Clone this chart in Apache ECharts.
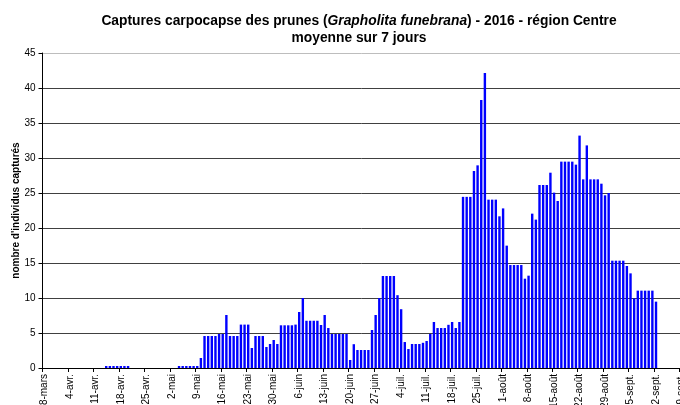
<!DOCTYPE html>
<html>
<head>
<meta charset="utf-8">
<script src="https://cdn.jsdelivr.net/npm/echarts@6/dist/echarts.min.js"></script>
<style>
html,body{margin:0;padding:0;background:#fff;}
#c{width:680px;height:405px;}
</style>
</head>
<body>
<div id="c"></div>
<script>
// Weekly tick labels (every 7 days, starting 28 March 2016)
const tickLabels = ["28-mars","4-avr.","11-avr.","18-avr.","25-avr.","2-mai","9-mai","16-mai","23-mai","30-mai","6-juin","13-juin","20-juin","27-juin","4-juil.","11-juil.","18-juil.","25-juil.","1-août","8-août","15-août","22-août","29-août","5-sept.","12-sept.","19-sept.","26-sept."];

// Daily categories from 28 March 2016
const monthNames = ["janv.","févr.","mars","avr.","mai","juin","juil.","août","sept.","oct."];
const nDays = 182;
const categories = [];
for (let i = 0; i < nDays; i++) {
  const d = new Date(2016, 2, 28 + i);
  categories.push(d.getDate() + "-" + monthNames[d.getMonth()]);
}

// 7-day moving average of captures, one value per day from 28 March
const captures = [
  0,0,0,0,0,0,0,0,0,0,0,0,0,0,0,0,0,            // 28-mars .. 13-avr.
  0.29,0.29,0.29,0.29,0.29,0.29,0.29,           // 14-avr. .. 20-avr.
  0,0,0,0,0,0,0,0,0,0,0,0,0,                    // 21-avr. .. 3-mai
  0.29,0.29,0.29,0.29,0.29,0.29,                // 4-mai .. 9-mai
  1.43,4.57,4.57,4.57,4.57,4.86,4.86,7.57,      // 10-mai .. 17-mai
  4.57,4.57,4.57,6.2,6.2,6.2,2.86,              // 18-mai .. 24-mai
  4.57,4.57,4.57,3.0,3.43,4.0,3.43,             // 25-mai .. 31-mai
  6.1,6.1,6.1,6.1,6.2,8.0,10.0,                 // 1-juin .. 7-juin
  6.75,6.75,6.75,6.75,6.14,7.57,5.71,           // 8-juin .. 14-juin
  4.86,4.86,4.86,4.86,4.86,1.14,3.4,            // 15-juin .. 21-juin
  2.57,2.57,2.57,2.57,5.43,7.57,10.0,           // 22-juin .. 28-juin
  13.14,13.14,13.14,13.14,10.4,8.4,3.71,        // 29-juin .. 5-juil.
  2.71,3.43,3.43,3.43,3.6,3.86,4.86,            // 6-juil. .. 12-juil.
  6.57,5.71,5.71,5.71,6.17,6.57,5.71,           // 13-juil. .. 19-juil.
  6.57,24.45,24.45,24.45,28.14,28.95,38.29,     // 20-juil. .. 26-juil.
  42.14,24.05,24.05,24.05,21.67,22.8,17.48,     // 27-juil. .. 2-août
  14.71,14.71,14.71,14.71,12.76,13.19,22.05,    // 3-août .. 9-août
  21.2,26.14,26.14,26.14,27.9,25.05,23.86,      // 10-août .. 16-août
  29.48,29.48,29.48,29.48,29.05,33.2,26.95,     // 17-août .. 23-août
  31.8,26.95,26.95,26.95,26.33,24.67,25.0,      // 24-août .. 30-août
  15.33,15.33,15.33,15.33,14.57,13.52,9.95,     // 31-août .. 6-sept.
  11.05,11.05,11.05,11.05,11.05,9.48            // 7-sept. .. 12-sept.
];

const yTicks = [0,5,10,15,20,25,30,35,40,45];

const FONT = "'Liberation Sans', Arial, sans-serif";
const dayWidth = 3.641;

const chart = echarts.init(document.getElementById('c'), null, {renderer: 'canvas'});
chart.setOption({
  animation: false,
  backgroundColor: '#ffffff',
  title: {
    left: 354,
    top: 8,
    textAlign: 'center',
    text: '{b|Captures carpocapse des prunes (}{i|Grapholita funebrana}{b|) - 2016 - région Centre}\n{b|moyenne sur 7 jours}',
    textStyle: {
      fontFamily: FONT,
      fontSize: 13.8,
      fontWeight: 'bold',
      color: '#000',
      lineHeight: 17,
      rich: {
        b: {fontFamily: FONT, fontSize: 13.8, fontWeight: 'bold', color: '#000', lineHeight: 17},
        i: {fontFamily: FONT, fontSize: 13.8, fontWeight: 'bold', fontStyle: 'italic', color: '#000', lineHeight: 17}
      }
    }
  },
  grid: {
    left: 42.5,
    top: 53,
    height: 315,
    width: nDays * dayWidth,
    containLabel: false,
    outerBoundsMode: 'none',
    show: false
  },
  xAxis: {
    type: 'category',
    data: categories,
    boundaryGap: true,
    axisLine: {show: true, lineStyle: {color: '#000', width: 1}},
    axisTick: {show: true, interval: 6, length: 4, lineStyle: {color: '#000'}},
    axisLabel: {
      interval: 6,
      rotate: 90,
      margin: 6,
      fontFamily: FONT,
      fontSize: 10,
      color: '#000',
      formatter: function (v, idx) { return tickLabels[Math.round(idx / 7)] || ''; }
    },
    splitLine: {show: false}
  },
  yAxis: {
    type: 'value',
    min: 0,
    max: 45,
    interval: 5,
    name: "nombre d'individus capturés",
    nameLocation: 'middle',
    nameGap: 21,
    nameMoveOverlap: false,
    nameTextStyle: {fontFamily: FONT, fontSize: 10, fontWeight: 'bold', color: '#000'},
    axisLine: {show: true, lineStyle: {color: '#000', width: 1}},
    axisTick: {show: true, length: 4, lineStyle: {color: '#000'}},
    axisLabel: {
      margin: 7,
      fontFamily: FONT,
      fontSize: 10,
      color: '#000',
      formatter: function (v) { return yTicks.indexOf(v) >= 0 ? String(v) : ''; }
    },
    splitLine: {
      show: true,
      lineStyle: {color: ['#404040','#404040','#404040','#404040','#404040','#404040','#404040','#404040','#404040','#bdbdbd'], width: 1}
    }
  },
  series: [{
    type: 'bar',
    data: captures,
    barWidth: 2.4,
    itemStyle: {color: '#0000ff'},
    clip: false
  }]
});
</script>
</body>
</html>
